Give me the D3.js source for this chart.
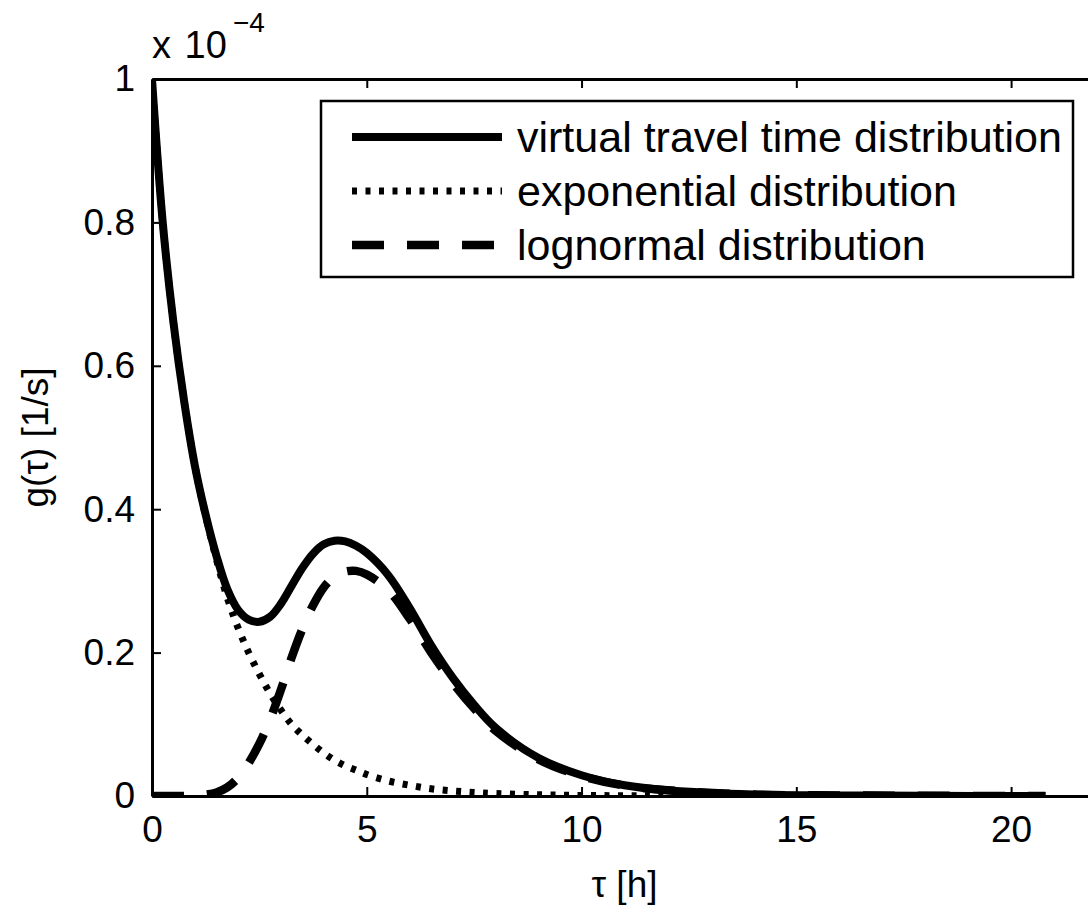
<!DOCTYPE html>
<html>
<head>
<meta charset="utf-8">
<script src="https://cdn.jsdelivr.net/npm/d3@7"></script>
<style>
  html, body { margin: 0; padding: 0; background: #fff; }
  svg { display: block; }
  text { font-family: "Liberation Sans", Arial, Helvetica, sans-serif; fill: #000; }
</style>
</head>
<body>
<svg id="chart" width="1088" height="916"></svg>
<script>
// ---- data (values in units of 1e-4 1/s, time in hours) ----
const tau = [0, 0.25, 0.5, 0.75, 1.0, 1.25, 1.5, 1.75, 2.0, 2.25, 2.5, 2.75, 3.0, 3.25, 3.5, 3.75, 4.0, 4.25, 4.5, 4.75, 5.0, 5.5, 6.0, 6.5, 7.0, 7.5, 8.0, 9.0, 10, 11, 12, 14, 16, 18, 20.8];
const virtualTT = [1.0, 0.80, 0.66, 0.55, 0.46, 0.392, 0.335, 0.289, 0.26, 0.246, 0.243, 0.25, 0.268, 0.293, 0.318, 0.338, 0.351, 0.356, 0.355, 0.349, 0.339, 0.308, 0.262, 0.21, 0.165, 0.127, 0.095, 0.053, 0.029, 0.015, 0.008, 0.002, 0.0008, 0.0003, 0];
const exponential = [1.0, 0.80, 0.66, 0.55, 0.46, 0.39, 0.33, 0.277, 0.235, 0.20, 0.17, 0.143, 0.12, 0.10, 0.085, 0.072, 0.06, 0.05, 0.042, 0.036, 0.03, 0.021, 0.015, 0.01, 0.007, 0.005, 0.0035, 0.0017, 0.0008, 0.0004, 0.0002, 0, 0, 0, 0];
const lognormal = [0, 0, 0, 0, 0.0005, 0.002, 0.005, 0.012, 0.025, 0.046, 0.073, 0.107, 0.148, 0.193, 0.233, 0.266, 0.291, 0.306, 0.313, 0.314, 0.309, 0.287, 0.247, 0.2, 0.158, 0.122, 0.091, 0.051, 0.028, 0.0145, 0.008, 0.002, 0.0008, 0.0003, 0];
const xTicks = [0, 5, 10, 15, 20];
const yTicks = [0, 0.2, 0.4, 0.6, 0.8, 1];
const yTickLabels = ["0", "0.2", "0.4", "0.6", "0.8", "1"];
const seriesNames = ["virtual travel time distribution", "exponential distribution", "lognormal distribution"];

// ---- layout ----
const svg = d3.select("#chart");
const mLeft = 152, mTop = 79, mBottom = 796, mRight = 1097;
const x = d3.scaleLinear().domain([0, 22]).range([mLeft, mRight]);
const y = d3.scaleLinear().domain([0, 1]).range([mBottom, mTop]);

const series = [
  { name: seriesNames[0], values: virtualTT, width: 8, dash: null },
  { name: seriesNames[1], values: exponential, width: 7, dash: "5,8.5" },
  { name: seriesNames[2], values: lognormal, width: 8.5, dash: "32,23" }
];

svg.append("defs").append("clipPath").attr("id", "clip")
  .append("rect").attr("x", mLeft).attr("y", mTop - 4).attr("width", mRight - mLeft).attr("height", mBottom - mTop + 4);

// axes (MATLAB-like inward ticks, box)
const tickLen = 9;
const axG = svg.append("g");
const fs = 37;

const xAxisB = d3.axisBottom(x).tickValues(xTicks).tickSizeInner(-tickLen).tickSizeOuter(0).tickPadding(20).tickFormat(d3.format("d"));
const gxb = axG.append("g").attr("transform", `translate(0,${mBottom})`).call(xAxisB);
const xAxisT = d3.axisTop(x).tickValues(xTicks).tickSizeInner(-tickLen).tickSizeOuter(0).tickFormat("");
const gxt = axG.append("g").attr("transform", `translate(0,${mTop})`).call(xAxisT);
const yAxisL = d3.axisLeft(y).tickValues(yTicks).tickSizeInner(-tickLen).tickSizeOuter(0).tickPadding(17).tickFormat((d, i) => yTickLabels[i]);
const gyl = axG.append("g").attr("transform", `translate(${mLeft},0)`).call(yAxisL);
const yAxisR = d3.axisRight(y).tickValues(yTicks).tickSizeInner(-tickLen).tickSizeOuter(0).tickFormat("");
const gyr = axG.append("g").attr("transform", `translate(${mRight},0)`).call(yAxisR);

[gxb, gxt, gyl, gyr].forEach(g => {
  g.select(".domain").attr("stroke", "#000").attr("stroke-width", 3);
  g.selectAll(".tick line").attr("stroke", "#000").attr("stroke-width", 2);
  g.selectAll(".tick text").attr("font-size", fs).attr("font-family", "Liberation Sans, Arial, sans-serif").attr("fill", "#000");
});
gxb.selectAll(".tick text").attr("dy", "0.71em");

// curves
const line = d3.line().x((d, i) => x(tau[i])).y(d => y(d)).curve(d3.curveCatmullRom.alpha(0.5));
const plotG = svg.append("g").attr("clip-path", "url(#clip)");
series.forEach(s => {
  plotG.append("path")
    .attr("d", line(s.values))
    .attr("fill", "none")
    .attr("stroke", "#000")
    .attr("stroke-width", s.width)
    .attr("stroke-dasharray", s.dash)
    .attr("stroke-linejoin", "round");
});

// exponent label
svg.append("text").attr("x", 152).attr("y", 58).attr("font-size", 38).attr("word-spacing", 3).text("x 10");
svg.append("text").attr("x", 233).attr("y", 32).attr("font-size", 28).text("\u22124");

// axis labels
svg.append("text").attr("x", (mLeft + mRight) / 2).attr("y", 897).attr("text-anchor", "middle").attr("font-size", fs).text("\u03c4 [h]");
svg.append("text").attr("transform", `translate(48,${(mTop + mBottom) / 2}) rotate(-90)`)
  .attr("text-anchor", "middle").attr("font-size", fs).text("g(\u03c4) [1/s]");

// legend
const lg = svg.append("g");
lg.append("rect").attr("x", 321).attr("y", 101).attr("width", 752).attr("height", 176)
  .attr("fill", "#fff").attr("stroke", "#000").attr("stroke-width", 2.5);
series.forEach((s, i) => {
  const yy = 137 + i * 54;
  lg.append("line").attr("x1", 352).attr("x2", 502).attr("y1", yy).attr("y2", yy)
    .attr("stroke", "#000").attr("stroke-width", s.width).attr("stroke-dasharray", s.dash);
  lg.append("text").attr("x", 517).attr("y", yy + 15).attr("font-size", 43).text(s.name);
});
</script>
</body>
</html>
